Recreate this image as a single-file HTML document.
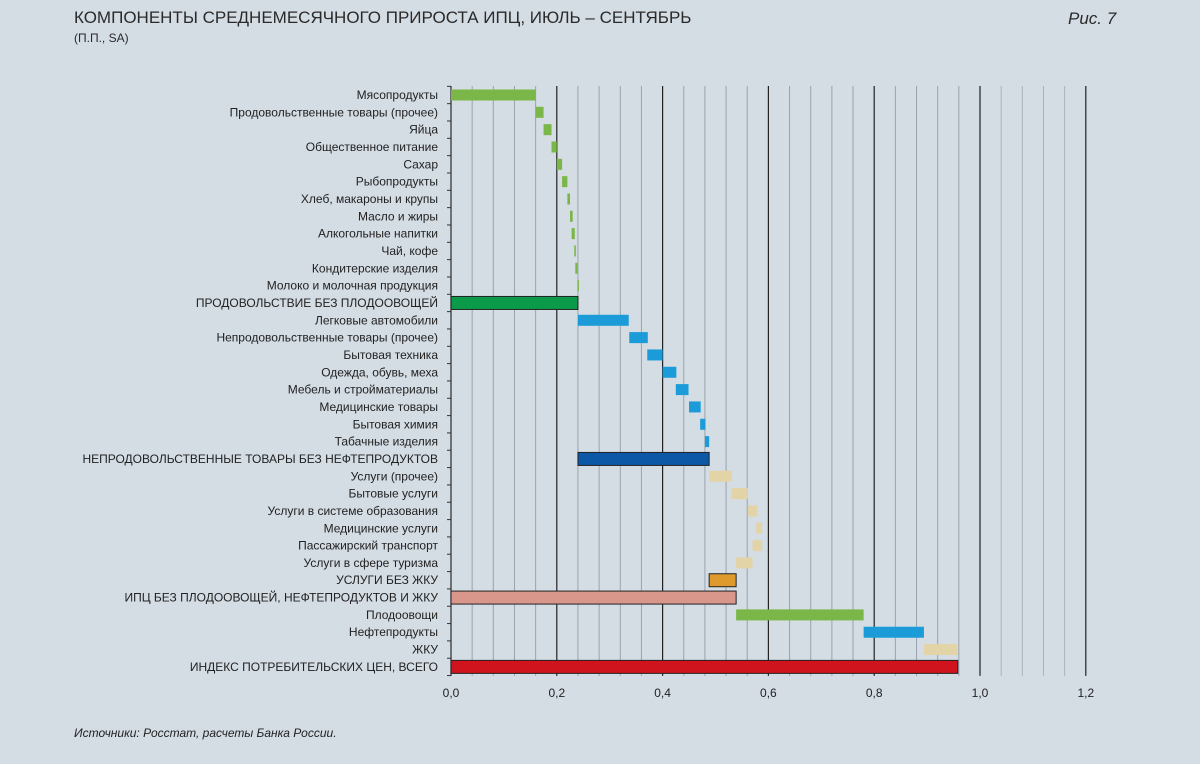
<!DOCTYPE html>
<html><head><meta charset="utf-8">
<style>
html,body{margin:0;padding:0;background:#d4dce4;}
body{width:1200px;height:764px;overflow:hidden;position:relative;font-family:"Liberation Sans Narrow","Liberation Sans",sans-serif;color:#222;}
.t{position:absolute;}
</style></head><body>
<div class="t" style="left:74px;top:8px;font-size:17px;color:#2a2a2a;">КОМПОНЕНТЫ СРЕДНЕМЕСЯЧНОГО ПРИРОСТА ИПЦ, ИЮЛЬ – СЕНТЯБРЬ</div>
<div class="t" style="left:74px;top:31px;font-size:12px;color:#2a2a2a;">(П.П., SA)</div>
<div class="t" style="left:1068px;top:9px;font-size:17px;font-style:italic;color:#2a2a2a;">Рис. 7</div>
<div class="t" style="left:74px;top:726px;font-size:12px;font-style:italic;color:#222;">Источники: Росстат, расчеты Банка России.</div>
<svg id="chart" width="1200" height="764" style="position:absolute;left:0;top:0;" xmlns="http://www.w3.org/2000/svg"></svg>
<script>
const categories=["Мясопродукты","Продовольственные товары (прочее)","Яйца","Общественное питание","Сахар","Рыбопродукты","Хлеб, макароны и крупы","Масло и жиры","Алкогольные напитки","Чай, кофе","Кондитерские изделия","Молоко и молочная продукция","ПРОДОВОЛЬСТВИЕ БЕЗ ПЛОДООВОЩЕЙ","Легковые автомобили","Непродовольственные товары (прочее)","Бытовая техника","Одежда, обувь, меха","Мебель и стройматериалы","Медицинские товары","Бытовая химия","Табачные изделия","НЕПРОДОВОЛЬСТВЕННЫЕ ТОВАРЫ БЕЗ НЕФТЕПРОДУКТОВ","Услуги (прочее)","Бытовые услуги","Услуги в системе образования","Медицинские услуги","Пассажирский транспорт","Услуги в сфере туризма","УСЛУГИ БЕЗ ЖКУ","ИПЦ БЕЗ ПЛОДООВОЩЕЙ, НЕФТЕПРОДУКТОВ И ЖКУ","Плодоовощи","Нефтепродукты","ЖКУ","ИНДЕКС ПОТРЕБИТЕЛЬСКИХ ЦЕН, ВСЕГО"];
const startValues=[0,0.16,0.175,0.19,0.20,0.21,0.22,0.225,0.228,0.233,0.235,0.239,0,0.24,0.337,0.371,0.40,0.425,0.45,0.471,0.48,0.24,0.488,0.53,0.561,0.577,0.570,0.539,0.488,0,0.539,0.78,0.894,0];
const endValues=[0.16,0.175,0.19,0.20,0.21,0.22,0.225,0.23,0.234,0.236,0.239,0.241,0.24,0.336,0.372,0.40,0.426,0.449,0.472,0.481,0.488,0.488,0.531,0.561,0.579,0.588,0.588,0.570,0.539,0.539,0.78,0.894,0.958,0.958];
const groups=["f","f","f","f","f","f","f","f","f","f","f","f","F","n","n","n","n","n","n","n","n","N","s","s","s","s","s","s","S","C","f","n","s","T"];
const tickValues=[0,0.2,0.4,0.6,0.8,1.0,1.2];
const tickLabels=["0,0","0,2","0,4","0,6","0,8","1,0","1,2"];
const fills={f:"#7ab648",F:"#0b9a4a",n:"#1b9bd7",N:"#0d58a6",s:"#e3d4a8",S:"#de9a2c",C:"#d9968b",T:"#d0141e"};
const totals={F:1,N:1,S:1,C:1,T:1};
const X0=451,PX=529,Y0=95,STEP=17.33;
const xs=v=>X0+v*PX, ys=i=>Y0+i*STEP;
const svg=document.getElementById('chart');
const NS="http://www.w3.org/2000/svg";
function mk(tag,at){const e=document.createElementNS(NS,tag);for(const k in at)e.setAttribute(k,at[k]);svg.appendChild(e);return e;}
const gridTop=ys(0)-9,gridBot=ys(categories.length-1)+9;
for(let k=0;k<=30;k++){
  const v=k*0.04;
  const major=k%5===0;
  const l=mk('line',{x1:xs(v),x2:xs(v),y1:gridTop,y2:gridBot,stroke:major&&k>0?"#222":(k>25?"#aab3bd":"#9aa3ad"),"stroke-width":major?1.2:1});
  
  
}
const ax=mk('line',{x1:X0,x2:X0,y1:gridTop,y2:gridBot,stroke:"#333","stroke-width":1.2});


for(let i=0;i<=categories.length;i++){
  const y=ys(i)-STEP/2;
  const tk=mk('line',{x1:X0-4,x2:X0,y1:y,y2:y,stroke:"#333"});
  
  
}
categories.forEach((c,i)=>{
  const t=mk('text',{x:438,y:ys(i)+4,"text-anchor":"end","font-size":12,fill:"#222"});
  t.textContent=c;
  
  
  const g=groups[i],tot=totals[g];
  const h=tot?13:11;
  const a=xs(startValues[i]),b=xs(endValues[i]);
  const r=mk('rect',{x:a,y:ys(i)-h/2,width:Math.max(1.5,b-a),height:h,fill:fills[g]});
  if(tot){r.setAttribute('stroke',"#222");r.setAttribute('stroke-width',1);}
  
  
});
tickValues.forEach((v,i)=>{
  const t=mk('text',{x:xs(v),y:697,"text-anchor":"middle","font-size":12,fill:"#222"});
  t.textContent=tickLabels[i];
  
  
});
</script>
</body></html>
